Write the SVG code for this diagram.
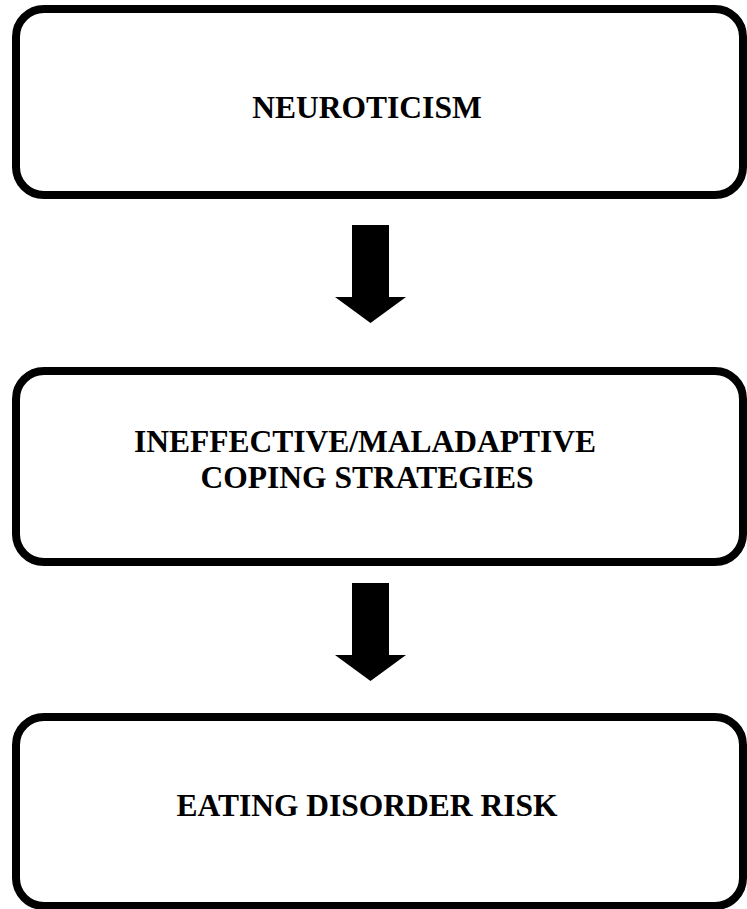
<svg xmlns="http://www.w3.org/2000/svg" width="747" height="909" viewBox="0 0 747 909">
<style>
.box{fill:#fff;stroke:#000;stroke-width:8}
.lbl{font-family:"Liberation Serif","Times New Roman",serif;font-weight:bold;font-size:31.5px;fill:#000;text-anchor:middle}
.arr{fill:#000}
</style>
<rect width="747" height="909" fill="#fff"/>
<g id="node-neuroticism">
<rect class="box" x="16" y="9" width="727" height="186" rx="28" ry="28"/>
<text class="lbl" x="367" y="118">NEUROTICISM</text>
</g>
<g id="node-coping">
<rect class="box" x="16" y="371" width="727" height="191" rx="28" ry="28"/>
<text class="lbl" x="365" y="452">INEFFECTIVE/MALADAPTIVE</text>
<text class="lbl" x="367" y="488">COPING STRATEGIES</text>
</g>
<g id="node-eating">
<rect class="box" x="16" y="717" width="727" height="189" rx="28" ry="28"/>
<text class="lbl" x="367" y="816">EATING DISORDER RISK</text>
</g>
<g id="connectors">
<polygon class="arr" points="352,225 389,225 389,297 406,297 370.5,323 335,297 352,297"/>
<polygon class="arr" points="352,583 389,583 389,655 406,655 370.5,681 335,655 352,655"/>
</g>
</svg>
